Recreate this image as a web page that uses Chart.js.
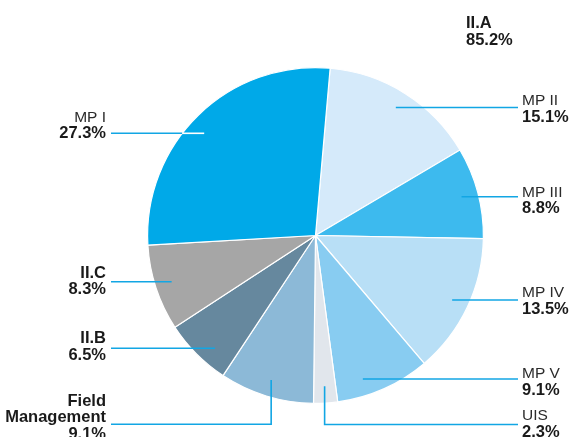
<!DOCTYPE html>
<html>
<head>
<meta charset="utf-8">
<script src="https://cdn.jsdelivr.net/npm/chart.js@4/dist/chart.umd.min.js"></script>
<style>
  body { margin: 0; background: #fff; }
  #graficoPizza { display: block; }
</style>
</head>
<body>
<canvas id="graficoPizza" width="573" height="437"></canvas>
<script>
// Dados do gráfico (sentido horário, começando logo à direita do topo)
const categorias = ['MP II', 'MP III', 'MP IV', 'MP V', 'UIS', 'Field Management', 'II.B', 'II.C', 'MP I'];
const valores = [15.1, 8.8, 13.5, 9.1, 2.3, 9.1, 6.5, 8.3, 27.3];
const grupos = ['II.A', 'II.A', 'II.A', 'II.A', 'II.A', 'II.A', 'II.B', 'II.C', 'II.A'];
const cores = ['#d5eafa', '#3dbaee', '#b8dff6', '#88ccf1', '#e1e6ec', '#8cb9d7', '#66889e', '#a6a6a6', '#00a9e8'];

// Posição dos rótulos externos (lado, altura da linha guia, linha de base do texto)
const rotulos = [
    { lado: 'd', linhaY: 107.5, textoY: 105 },
    { lado: 'd', linhaY: 196.7, textoY: 196.5 },
    { lado: 'd', linhaY: 300, textoY: 297 },
    { lado: 'd', linhaY: 379, textoY: 378.3 },
    { lado: 'd', linhaY: 424.5, textoY: 420, cotovelo: true },
    { lado: 'e', linhaY: 424.3, textoY: 405.7, cotovelo: true, linhas: ['Field', 'Management'], negrito: true },
    { lado: 'e', linhaY: 348.3, textoY: 343.3, negrito: true },
    { lado: 'e', linhaY: 281.7, textoY: 277.7, negrito: true },
    { lado: 'e', linhaY: 133.3, textoY: 121.7, corInterna: '#ffffff' }
];

const corLinha = '#12a6e4';
const fonteNome = '15.5px "Liberation Sans", Arial, sans-serif';
const fonteNegrito = 'bold 16.5px "Liberation Sans", Arial, sans-serif';

function formatar(v) {
    return v.toFixed(1) + '%';
}

// Plugin que desenha os rótulos com linhas guia
const rotulosExternos = {
    id: 'rotulosExternos',
    afterDraw(chart) {
        const ctx = chart.ctx;
        const meta = chart.getDatasetMeta(0);
        ctx.save();
        ctx.lineWidth = 1.6;
        ctx.textBaseline = 'alphabetic';

        meta.data.forEach(function (arco, i) {
            const p = arco.getProps(['x', 'y', 'startAngle', 'endAngle', 'outerRadius'], true);
            const cfg = rotulos[i];
            const r = p.outerRadius * 0.9;
            const meio = (p.startAngle + p.endAngle) / 2;
            const direita = cfg.lado === 'd';
            const xTexto = direita ? 522 : 106;
            const xFimLinha = direita ? 518 : 111;

            ctx.strokeStyle = corLinha;
            if (cfg.cotovelo) {
                // linha vertical saindo da fatia e depois horizontal até o texto
                const ax = p.x + Math.cos(meio) * r;
                const ay = p.y + Math.sin(meio) * r;
                ctx.beginPath();
                ctx.moveTo(ax, ay);
                ctx.lineTo(ax, cfg.linhaY);
                ctx.lineTo(xFimLinha, cfg.linhaY);
                ctx.stroke();
            } else {
                const dy = cfg.linhaY - p.y;
                const dx = Math.sqrt(Math.max(r * r - dy * dy, 0));
                const ax = direita ? p.x + dx : p.x - dx;
                if (cfg.corInterna) {
                    // parte da linha dentro da fatia fica branca
                    const dxBorda = Math.sqrt(Math.max(p.outerRadius * p.outerRadius - dy * dy, 0));
                    const xBorda = direita ? p.x + dxBorda : p.x - dxBorda;
                    ctx.beginPath();
                    ctx.moveTo(xFimLinha, cfg.linhaY);
                    ctx.lineTo(xBorda, cfg.linhaY);
                    ctx.stroke();
                    ctx.strokeStyle = cfg.corInterna;
                    ctx.beginPath();
                    ctx.moveTo(xBorda, cfg.linhaY);
                    ctx.lineTo(ax, cfg.linhaY);
                    ctx.stroke();
                } else {
                    ctx.beginPath();
                    ctx.moveTo(xFimLinha, cfg.linhaY);
                    ctx.lineTo(ax, cfg.linhaY);
                    ctx.stroke();
                }
            }

            // texto do rótulo
            ctx.textAlign = direita ? 'left' : 'right';
            const linhas = (cfg.linhas || [categorias[i]]).slice();
            let y = cfg.textoY;
            linhas.forEach(function (t) {
                ctx.font = cfg.negrito ? fonteNegrito : fonteNome;
                ctx.fillStyle = cfg.negrito ? '#1a1a1a' : '#2b2b2b';
                ctx.fillText(t, xTexto, y);
                y += 16.5;
            });
            ctx.font = fonteNegrito;
            ctx.fillStyle = '#1a1a1a';
            ctx.fillText(formatar(valores[i]), xTexto, y);
        });

        // total do grupo II.A
        let totalIIA = 0;
        for (let i = 0; i < valores.length; i++) {
            if (grupos[i] === 'II.A') totalIIA += valores[i];
        }
        ctx.textAlign = 'left';
        ctx.font = fonteNegrito;
        ctx.fillStyle = '#1a1a1a';
        ctx.fillText('II.A', 466, 28.3);
        ctx.fillText(formatar(totalIIA), 466, 45);
        ctx.restore();
    }
};

const config = {
    type: 'pie',
    data: {
        labels: categorias,
        datasets: [{
            data: valores,
            backgroundColor: cores,
            borderColor: '#ffffff',
            borderWidth: 1.2
        }]
    },
    options: {
        responsive: false,
        animation: false,
        rotation: 5,
        layout: { padding: { top: 67, bottom: 33, left: 146, right: 88 } },
        plugins: {
            legend: { display: false },
            tooltip: { enabled: false }
        }
    },
    plugins: [rotulosExternos]
};

let myChart = new Chart(document.getElementById('graficoPizza'), config);
</script>
</body>
</html>
